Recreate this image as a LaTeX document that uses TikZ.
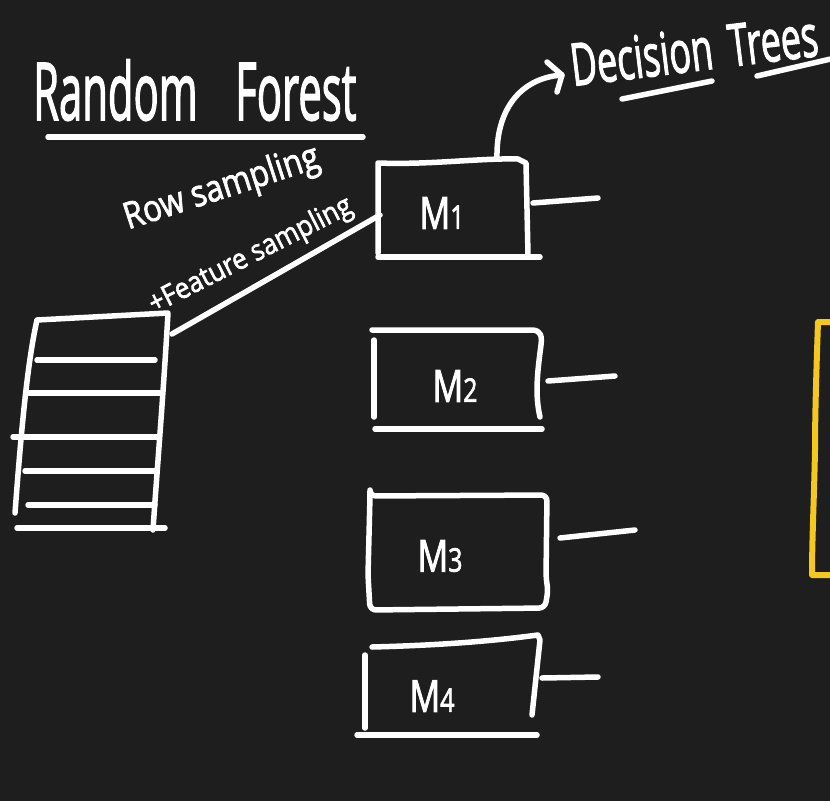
\documentclass[tikz,border=0pt]{standalone}
\usepackage{fontspec}
\setmainfont{Open Sans}[FakeBold=2.2]
\usetikzlibrary{arrows.meta}
\definecolor{board}{RGB}{30,30,30}
\definecolor{gold}{RGB}{244,200,32}
\begin{document}
\begin{tikzpicture}[x=1pt,y=-1pt,
  ink/.style={draw=white,line width=5.5pt,line cap=round,line join=round},
  yel/.style={draw=gold,line width=6pt,line cap=round,line join=round},
  lbl/.style={text=white,inner sep=0pt},
  mlbl/.style={text=white,inner sep=0pt,font=\fontsize{34}{34}\selectfont}]
\useasboundingbox (0,0) rectangle (830,801);
\fill[board] (0,0) rectangle (830,801);
\clip (0,0) rectangle (830,801);

% title
\node[lbl,anchor=base west,font=\fontsize{55}{55}\selectfont] (title) at (33,120)
  {\scalebox{0.76}[1.45]{Random\hspace{0.9em}Forest}};
\coordinate (ulA) at (48,137);
\coordinate (ulB) at (363,137);
\draw[ink] (ulA) -- (ulB);

% decision trees
\node[lbl,anchor=base west,rotate=7,font=\fontsize{45}{45}\selectfont] (dt) at (573,86)
  {\scalebox{0.8}[1.3]{Decision\hspace{0.45em}Trees}};
\coordinate (dtu1a) at (622,99);
\coordinate (dtu1b) at (712,81);
\coordinate (dtu2a) at (757,76);
\coordinate (dtu2b) at (835,58);
\draw[ink] (dtu1a) -- (dtu1b);
\draw[ink] (dtu2a) -- (dtu2b);

% table
\coordinate (tTL) at (37,320);
\coordinate (tTR) at (168,313);
\draw[ink] (15,513) .. controls (22,420) and (28,360) .. (tTL) -- (tTR)
  .. controls (163,400) and (157,470) .. (153,530);
\draw[ink] (37,360) -- (155,360);
\draw[ink] (29,393) -- (160,393);
\draw[ink] (13,437) -- (157,437);
\draw[ink] (25,471) -- (155,471);
\draw[ink] (28,505) -- (155,505);
\draw[ink] (17,528) -- (165,528);

% sampling labels
\node[lbl,rotate=18,font=\fontsize{32}{32}\selectfont] (rows) at (222,189)
  {\scalebox{0.98}[1.15]{Row sampling}};
\node[lbl,rotate=27,font=\fontsize{26}{26}\selectfont] (feat) at (251,256)
  {\scalebox{1}[1.1]{+Feature sampling}};

% M1
\node[mlbl] (m1) at (442,213) {\scalebox{1}[1.3]{M{\fontsize{25}{25}\selectfont 1}}};
\coordinate (m1L) at (380,215);
\coordinate (m1T) at (497,158);
\draw[ink] (378,253) -- (378,163) .. controls (430,165) and (480,158) .. (518,159)
  -- (526,163) -- (528,255);
\draw[ink] (378,257) -- (540,257);
\draw[ink] (533,203) -- (598,198);
\coordinate (tabc) at (172,334);
\draw[ink] (tabc) -- (m1L);

% arrow to decision trees
\coordinate (dtin) at (562,75);
\draw[ink] (m1T) .. controls (496,110) and (520,78) .. (dtin);
\draw[ink] (547,62) -- (dtin) -- (557,92);

% M2
\node[mlbl] (m2) at (455,386) {\scalebox{1}[1.3]{M{\fontsize{25}{25}\selectfont 2}}};
\draw[ink] (374,340) -- (374,417);
\draw[ink] (372,330) -- (533,330) .. controls (541,331) and (542,336) .. (541,345)
  .. controls (537,375) and (535,395) .. (540,417);
\draw[ink] (375,429) -- (542,429);
\draw[ink] (548,381) -- (615,376);

% M3
\node[mlbl] (m3) at (440,556) {\scalebox{1}[1.3]{M{\fontsize{25}{25}\selectfont 3}}};
\draw[ink,rounded corners=6pt] (370,496) -- (547,495) -- (546,578) -- (548,590)
  -- (545,608) -- (370,610) -- (368,575) -- (370,496) -- cycle;
\draw[ink] (560,538) -- (635,530);

% M4
\node[mlbl] (m4) at (432,696) {\scalebox{1}[1.3]{M{\fontsize{25}{25}\selectfont 4}}};
\draw[ink] (365,655) -- (365,728);
\draw[ink] (372,647) .. controls (450,645) and (500,640) .. (538,635) -- (540,640) -- (532,715);
\draw[ink] (357,735) -- (537,735);
\draw[ink] (542,678) -- (598,677);

% yellow box (partly visible)
\draw[yel] (835,322) -- (818,322) .. controls (816,380) and (815,420) .. (815,450)
  .. controls (814,500) and (812,540) .. (812,575) -- (835,575);
\end{tikzpicture}
\end{document}
